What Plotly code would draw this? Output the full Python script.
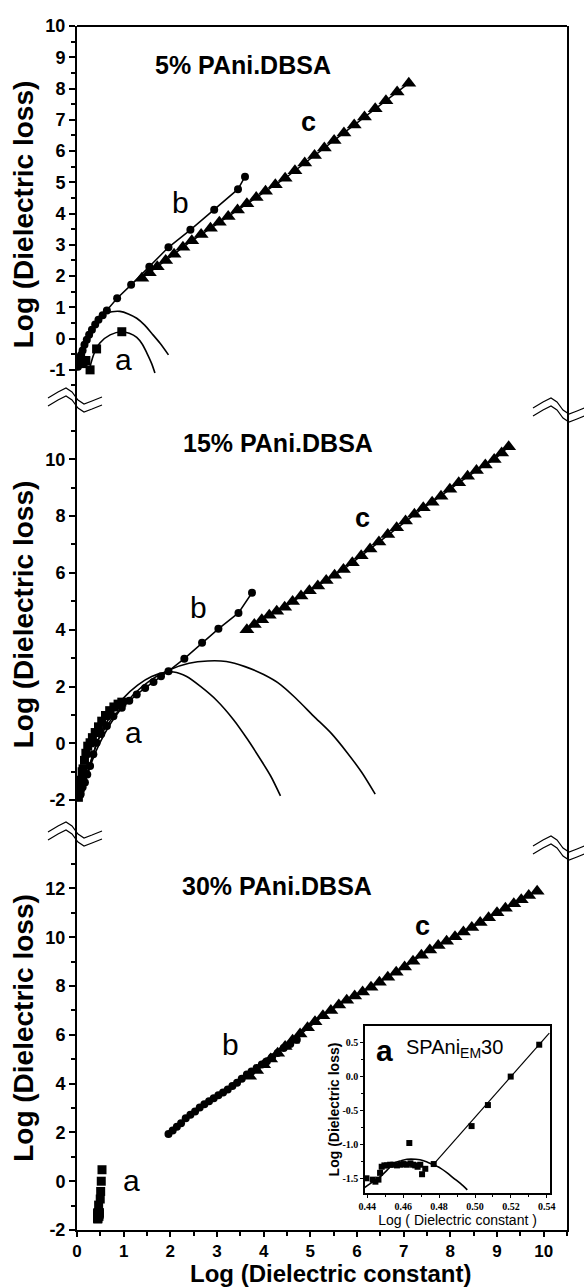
import plotly.graph_objects as go
import numpy as np

# ---------------- data ----------------
# 5% PAni.DBSA
a5_x = [0.04, 0.08, 0.13, 0.19, 0.28, 0.42, 0.96]
a5_y = [-0.62, -0.72, -0.80, -0.70, -1.00, -0.33, 0.22]
b5_x = [0.02, 0.04, 0.06, 0.09, 0.12, 0.16, 0.21, 0.26, 0.32, 0.39, 0.46, 0.55, 0.64, 0.86, 1.16, 1.55, 1.96, 2.43, 2.94, 3.45, 3.60]
b5_y = [-0.90, -0.80, -0.68, -0.52, -0.38, -0.20, -0.04, 0.12, 0.28, 0.45, 0.60, 0.75, 0.90, 1.29, 1.72, 2.30, 2.92, 3.48, 4.12, 4.78, 5.18]
c5_x = [1.39, 1.55, 1.72, 1.90, 2.08, 2.27, 2.46, 2.66, 2.86, 3.05, 3.24, 3.44, 3.64, 3.84, 4.04,
        4.25, 4.46, 4.67, 4.88, 5.09, 5.30, 5.51, 5.72, 5.94, 6.16, 6.39, 6.62, 6.86, 7.11]
c5_y = [1.93, 2.11, 2.30, 2.50, 2.70, 2.92, 3.13, 3.33, 3.53, 3.72, 3.91, 4.11, 4.31, 4.51, 4.71,
        4.92, 5.13, 5.37, 5.62, 5.86, 6.10, 6.34, 6.58, 6.83, 7.09, 7.35, 7.61, 7.89, 8.17]
fa5_x = [0.28, 0.36, 0.49, 0.71, 0.96, 1.12, 1.28, 1.40, 1.50, 1.60, 1.67]
fa5_y = [-0.90, -0.50, -0.14, 0.12, 0.22, 0.17, 0.04, -0.18, -0.47, -0.80, -1.10]
fb5_x = [0.05, 0.15, 0.30, 0.45, 0.60, 0.75, 0.92, 1.10, 1.28, 1.45, 1.60, 1.78, 1.96]
fb5_y = [-0.70, -0.20, 0.30, 0.62, 0.80, 0.86, 0.87, 0.79, 0.65, 0.43, 0.17, -0.15, -0.52]

# 15% PAni.DBSA
a15_x = [0.03, 0.05, 0.07, 0.09, 0.11, 0.13, 0.16, 0.19, 0.23, 0.28, 0.33, 0.39, 0.46, 0.53, 0.61, 0.70, 0.79, 0.88, 0.96]
a15_y = [-1.90, -1.75, -1.55, -1.30, -1.00, -0.90, -0.60, -0.35, -0.10, 0.02, 0.20, 0.38, 0.58, 0.78, 0.98, 1.15, 1.28, 1.38, 1.45]
b15_x = [0.08, 0.12, 0.17, 0.22, 0.28, 0.35, 0.42, 0.52, 0.64, 0.78, 0.96, 1.12, 1.28, 1.46, 1.64, 1.80, 1.96, 2.30, 2.68, 3.03, 3.46, 3.75]
b15_y = [-1.78, -1.55, -1.38, -1.10, -0.80, -0.38, 0.02, 0.33, 0.61, 0.95, 1.25, 1.50, 1.72, 1.95, 2.16, 2.36, 2.54, 2.98, 3.54, 4.03, 4.59, 5.30]
c15_x = [3.64, 3.80, 3.96, 4.12, 4.28, 4.45, 4.62, 4.80, 4.98, 5.16, 5.34, 5.52, 5.71, 5.90, 6.09, 6.28,
         6.47, 6.66, 6.85, 7.04, 7.23, 7.42, 7.61, 7.80, 7.99, 8.18, 8.37, 8.56, 8.75, 8.94, 9.10, 9.25]
c15_y = [4.00, 4.18, 4.35, 4.51, 4.65, 4.79, 4.99, 5.19, 5.37, 5.54, 5.73, 5.92, 6.12, 6.36, 6.60, 6.84,
         7.09, 7.35, 7.59, 7.83, 8.06, 8.29, 8.49, 8.70, 8.94, 9.17, 9.40, 9.60, 9.80, 9.99, 10.22, 10.44]
fa15_x = [0.10, 0.30, 0.50, 0.75, 1.00, 1.30, 1.60, 1.85, 2.07, 2.35, 2.64, 3.00, 3.35, 3.65, 3.93, 4.15, 4.36]
fa15_y = [-1.75, -0.60, 0.30, 1.05, 1.60, 2.05, 2.35, 2.48, 2.51, 2.35, 2.01, 1.50, 0.84, 0.15, -0.56, -1.15, -1.85]
fb15_x = [0.10, 0.40, 0.80, 1.20, 1.60, 2.00, 2.40, 2.80, 3.20, 3.60, 4.00, 4.36, 4.70, 5.07, 5.45, 5.79, 6.10, 6.39]
fb15_y = [-1.75, -0.30, 0.90, 1.70, 2.25, 2.60, 2.82, 2.90, 2.88, 2.70, 2.42, 2.07, 1.57, 0.96, 0.35, -0.33, -1.02, -1.79]

# 30% PAni.DBSA  (curve a = inset data SPAni_EM30)
a30_x = [0.4395, 0.4430, 0.4445, 0.4462, 0.4471, 0.4480, 0.4495, 0.4510, 0.4527, 0.4545, 0.4565, 0.4585, 0.4602,
         0.4620, 0.4634, 0.4640, 0.4655, 0.4667, 0.4680, 0.4695, 0.4705, 0.4723, 0.4770, 0.4981, 0.5072, 0.5199, 0.5358]
a30_y = [-1.50, -1.52, -1.55, -1.52, -1.42, -1.33, -1.31, -1.31, -1.30, -1.30, -1.31, -1.30, -1.29,
         -1.30, -0.98, -1.28, -1.30, -1.31, -1.33, -1.30, -1.44, -1.36, -1.29, -0.73, -0.42, 0.00, 0.47]
b30_x = [1.96, 2.05, 2.14, 2.23, 2.33, 2.43, 2.53, 2.63, 2.73, 2.83, 2.93, 3.03, 3.13, 3.23,
         3.33, 3.43, 3.53, 3.64, 3.74, 3.85, 3.96, 4.07, 4.18, 4.30, 4.43, 4.57, 4.71]
b30_y = [1.94, 2.08, 2.23, 2.38, 2.58, 2.72, 2.86, 3.02, 3.15, 3.28, 3.40, 3.52, 3.64, 3.76,
         3.90, 4.04, 4.20, 4.37, 4.50, 4.64, 4.78, 4.92, 5.08, 5.26, 5.46, 5.62, 5.80]
c30_x = [3.70, 3.85, 4.00, 4.15, 4.30, 4.46, 4.62, 4.78, 4.94, 5.10, 5.27, 5.44, 5.61, 5.78, 5.95, 6.12, 6.30, 6.48, 6.66,
         6.84, 7.02, 7.20, 7.38, 7.56, 7.74, 7.92, 8.10, 8.28, 8.46, 8.64, 8.82, 9.00, 9.18, 9.36, 9.52, 9.68, 9.86]
c30_y = [4.30, 4.54, 4.77, 5.01, 5.25, 5.52, 5.78, 6.03, 6.29, 6.54, 6.78, 7.00, 7.22, 7.42, 7.59, 7.76, 7.95, 8.16, 8.36,
         8.57, 8.78, 9.02, 9.26, 9.48, 9.66, 9.84, 10.02, 10.21, 10.40, 10.60, 10.80, 11.00, 11.19, 11.37, 11.54, 11.71, 11.89]
# inset fits
ins_line_x = [0.4770, 0.5414]
ins_line_y = [-1.29, 0.64]
ins_arc_x = [0.4378, 0.4420, 0.4470, 0.4510, 0.4546, 0.4590, 0.4621, 0.4670, 0.4714, 0.4760, 0.4807, 0.4845, 0.4882, 0.4920, 0.4957]
ins_arc_y = [-1.65, -1.57, -1.48, -1.38, -1.28, -1.24, -1.22, -1.22, -1.24, -1.29, -1.35, -1.42, -1.50, -1.58, -1.67]

# tick labels
x_ticks = list(range(0, 11))
y5_ticks = list(range(-1, 11))
y15_ticks = [-2, 0, 2, 4, 6, 8, 10]
y30_ticks = [-2, 0, 2, 4, 6, 8, 10, 12]
ins_xticks = [0.44, 0.46, 0.48, 0.50, 0.52, 0.54]
ins_yticks = [-1.5, -1.0, -0.5, 0.0, 0.5]

# ---------------- layout geometry ----------------
W, H = 584, 1288
L, R, T, B = 77, 17, 26, 58
PW, PH = W - L - R, H - T - B
def yp(py):
    return (H - B - py) / PH
def xp(px):
    return (px - L) / PW

SANS = "Liberation Sans, Arial, sans-serif"
SERIF = "Liberation Serif, Times New Roman, serif"

fig = go.Figure()

def add(x, y, ya, kind, xa="x"):
    if kind == "sq":
        fig.add_trace(go.Scatter(x=x, y=y, mode="markers", xaxis=xa, yaxis=ya,
                                 marker=dict(symbol="square", size=9 if xa == "x" else 6, color="black")))
    elif kind == "ci":
        fig.add_trace(go.Scatter(x=x, y=y, mode="lines+markers", xaxis=xa, yaxis=ya,
                                 line=dict(color="black", width=1.5),
                                 marker=dict(symbol="circle", size=8, color="black")))
    elif kind == "tr":
        fig.add_trace(go.Scatter(x=x, y=y, mode="lines+markers", xaxis=xa, yaxis=ya,
                                 line=dict(color="black", width=1.5),
                                 marker=dict(symbol="triangle-up", size=13, color="black")))
    elif kind == "fit":
        fig.add_trace(go.Scatter(x=x, y=y, mode="lines", xaxis=xa, yaxis=ya,
                                 line=dict(color="black", width=1.6, shape="spline", smoothing=0.8)))

add(fa5_x, fa5_y, "y", "fit"); add(fb5_x, fb5_y, "y", "fit")
add(a5_x, a5_y, "y", "sq"); add(b5_x, b5_y, "y", "ci"); add(c5_x, c5_y, "y", "tr")
add(fa15_x, fa15_y, "y2", "fit"); add(fb15_x, fb15_y, "y2", "fit")
add(a15_x, a15_y, "y2", "sq"); add(b15_x, b15_y, "y2", "ci"); add(c15_x, c15_y, "y2", "tr")
add(a30_x, a30_y, "y3", "sq"); add(b30_x, b30_y, "y3", "ci"); add(c30_x, c30_y, "y3", "tr")
# inset
add(ins_arc_x, ins_arc_y, "y4", "fit", xa="x2")
fig.add_trace(go.Scatter(x=ins_line_x, y=ins_line_y, mode="lines", xaxis="x2", yaxis="y4",
                         line=dict(color="black", width=1.2)))
add(a30_x, a30_y, "y4", "sq", xa="x2")

tickfont = dict(family=SANS, size=18, color="black", weight="bold")
titlefont = dict(family=SANS, size=28, color="black", weight="bold")

def yaxis(dom, rng, ticks, minor_vals):
    return dict(domain=dom, range=rng, anchor="x", tickmode="array", tickvals=ticks,
                ticktext=[str(t) for t in ticks], ticks="outside", ticklen=6, tickwidth=2,
                tickcolor="black", showline=True, linewidth=2, linecolor="black", mirror=True,
                showgrid=False, zeroline=False, tickfont=tickfont,
                title=dict(text="Log (Dielectric loss)", font=titlefont, standoff=4),
                minor=dict(tickmode="array", tickvals=minor_vals, ticks="outside", ticklen=4,
                           tickwidth=1.5, tickcolor="black", showgrid=False),
                automargin=False)

fig.update_layout(
    width=W, height=H, template="none", showlegend=False,
    margin=dict(l=L, r=R, t=T, b=B), paper_bgcolor="white", plot_bgcolor="rgba(0,0,0,0)",
    xaxis=dict(domain=[0, 1], range=[0, 10.5], anchor="y3", tickmode="array", tickvals=x_ticks,
               ticktext=[str(t) for t in x_ticks], ticks="outside", ticklen=5, tickwidth=2,
               tickcolor="black", showline=True, linewidth=2, linecolor="black", showgrid=False,
               zeroline=False, tickfont=dict(family=SANS, size=17, color="black", weight="bold"),
               minor=dict(tickmode="array", tickvals=[i + 0.5 for i in range(11)], ticks="outside",
                          ticklen=4, tickwidth=1.5, tickcolor="black", showgrid=False),
               automargin=False),
    yaxis=yaxis([yp(403), 1], [-2.06, 10], y5_ticks, [i + 0.5 for i in range(-2, 10)]),
    yaxis2=yaxis([yp(826), yp(403)], [-2.91, 11.98], y15_ticks, [-1, 1, 3, 5, 7, 9, 11]),
    yaxis3=yaxis([0, yp(826)], [-2, 14.56], y30_ticks, [-1, 1, 3, 5, 7, 9, 11, 13]),
    xaxis2=dict(domain=[xp(365), xp(550)], range=[0.4387, 0.5418], anchor="y4", tickmode="array",
                tickvals=ins_xticks, ticktext=["%.2f" % t for t in ins_xticks], ticks="outside",
                ticklen=3, tickwidth=1, tickcolor="black", showline=True, linewidth=1.5,
                linecolor="black", mirror=True, showgrid=False, zeroline=False,
                tickfont=dict(family=SERIF, size=10, color="black", weight="bold"),
                title=dict(text="Log ( Dielectric constant )", font=dict(family=SANS, size=14, color="black"), standoff=2),
                minor=dict(tickmode="array", tickvals=[0.45, 0.47, 0.49, 0.51, 0.53], ticks="outside",
                           ticklen=2, tickwidth=1, tickcolor="black"),
                automargin=False),
    yaxis4=dict(domain=[yp(1193), yp(1026)], range=[-1.717, 0.746], anchor="x2", tickmode="array",
                tickvals=ins_yticks, ticktext=["%.1f" % t for t in ins_yticks], ticks="outside",
                ticklen=3, tickwidth=1, tickcolor="black", showline=True, linewidth=1.5,
                linecolor="black", mirror=True, showgrid=False, zeroline=False,
                tickfont=dict(family=SERIF, size=10, color="black", weight="bold"),
                title=dict(text="Log (Dielectric loss)", font=dict(family=SANS, size=14, color="black", weight="bold"), standoff=0),
                minor=dict(tickmode="array", tickvals=[-1.25, -0.75, -0.25, 0.25], ticks="outside",
                           ticklen=2, tickwidth=1, tickcolor="black"),
                automargin=False),
)

# top border
fig.add_shape(type="line", xref="paper", yref="paper", x0=0, x1=1, y0=1, y1=1,
              line=dict(color="black", width=2))

# axis-break symbols (double wavy lines)
def wave(px0, py0):
    pts = [(0, 0), (10, -6), (18, -10), (24, -6), (30, 2), (36, 6), (44, 3), (54, -1)]
    d = "M {:.5f},{:.5f}".format(xp(px0 + pts[0][0]), yp(py0 + pts[0][1]))
    for (a, b) in pts[1:]:
        d += " L {:.5f},{:.5f}".format(xp(px0 + a), yp(py0 + b))
    return d

for (bx, by) in [(48, 398), (48, 832), (533, 408), (533, 846)]:
    for off in (0, 8):
        fig.add_shape(type="path", xref="paper", yref="paper", path=wave(bx, by + off),
                      line=dict(color="black", width=1.2))

ann = []
def txt(x, y, text, size, yref, bold=False, xref="x"):
    ann.append(dict(x=x, y=y, xref=xref, yref=yref, text=text, showarrow=False,
                    font=dict(family=SANS, size=size, color="black", weight="bold" if bold else "normal")))

txt(3.56, 8.75, "5% PAni.DBSA", 25, "y", bold=True)
txt(4.31, 10.58, "15% PAni.DBSA", 25, "y2", bold=True)
txt(4.28, 12.09, "30% PAni.DBSA", 25, "y3", bold=True)
txt(1.0, -0.68, "a", 30, "y"); txt(2.21, 4.34, "b", 30, "y"); txt(4.96, 6.93, "c", 27, "y", bold=True)
txt(1.21, 0.37, "a", 30, "y2"); txt(2.6, 4.77, "b", 30, "y2"); txt(6.11, 7.93, "c", 27, "y2", bold=True)
txt(1.17, 0.04, "a", 30, "y3"); txt(3.28, 5.59, "b", 30, "y3"); txt(7.4, 10.47, "c", 27, "y3", bold=True)
txt(0.4498, 0.39, "a", 30, "y4", bold=True, xref="x2")
txt(0.4885, 0.42, "SPAni<sub>EM</sub>30", 20, "y4", xref="x2")
# x-axis title (placed just below the tick labels)
ann.append(dict(x=xp(330), y=yp(1288), xref="paper", yref="paper", xanchor="center", yanchor="bottom",
                text="Log (Dielectric constant)", showarrow=False, borderpad=0,
                font=dict(family=SANS, size=24, color="black", weight="bold")))
fig.update_layout(annotations=ann)

fig.write_html("out.html")
